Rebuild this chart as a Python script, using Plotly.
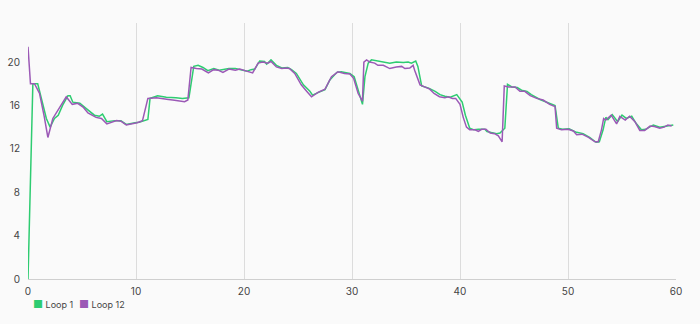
import plotly.graph_objects as go

# Loop 1 (green)
loop1_x = [0, 0.45, 0.9, 1.37, 1.7, 2.05, 2.45, 2.8, 3.2, 3.7,
           3.9, 4.15, 4.8, 5.4, 6.15, 6.6, 6.9, 7.3, 8.05, 8.6,
           9.1, 9.9, 10.3, 11.1, 11.3, 12.0, 12.8, 13.7, 14.3, 14.9,
           15.35, 15.75, 16.2, 16.65, 17.2, 17.7, 18.2, 18.6, 19.2, 19.8,
           20.3, 20.65, 21.0, 21.45, 21.9, 22.1, 22.5, 23.0, 23.5, 24.05,
           24.4, 24.85, 25.5, 26.1, 26.35, 26.9, 27.5, 27.95, 28.6, 29.0,
           29.8, 30.2, 30.7, 30.97, 31.2, 31.5, 31.8, 32.3, 32.9, 33.5,
           34.1, 34.75, 35.2, 35.5, 35.9, 36.1, 36.45, 37.1, 37.7, 38.15,
           38.6, 39.1, 39.7, 40.2, 40.5, 40.9, 41.3, 41.7, 42.3, 42.5,
           42.9, 43.4, 43.7, 44.15, 44.4, 44.8, 45.3, 45.7, 46.2, 46.6,
           47.4, 48.2, 48.8, 49.1, 49.5, 50.1, 50.7, 51.4, 52.0, 52.6,
           52.9, 53.25, 53.5, 53.7, 54.1, 54.6, 55.0, 55.4, 55.9, 56.3,
           56.8, 57.2, 57.9, 58.5, 59.1, 59.6, 59.75]
loop1_y = [0, 18.0, 18.0, 16.2, 14.8, 14.0, 14.8, 15.1, 16.0, 16.9,
           16.9, 16.3, 16.2, 15.7, 15.1, 15.0, 15.2, 14.5, 14.6, 14.6,
           14.25, 14.4, 14.45, 14.7, 16.65, 16.9, 16.75, 16.7, 16.65, 16.7,
           19.6, 19.7, 19.5, 19.2, 19.4, 19.25, 19.35, 19.4, 19.4, 19.25,
           19.15, 19.3, 19.35, 20.1, 20.05, 19.8, 20.2, 19.7, 19.45, 19.5,
           19.3, 18.95, 17.9, 17.3, 16.95, 17.2, 17.45, 18.35, 19.05, 19.1,
           18.95, 18.65, 17.0, 16.1, 18.65, 19.9, 20.2, 20.1, 19.95, 19.9,
           20.0, 19.95, 20.0, 19.9, 20.1, 19.6, 17.8, 17.6, 17.3, 17.0,
           16.85, 16.75, 17.0, 16.3, 15.1, 13.9, 13.75, 13.8, 13.8, 13.6,
           13.5, 13.4, 13.45, 13.9, 17.95, 17.7, 17.65, 17.4, 17.3, 17.0,
           16.55, 16.25, 16.0, 13.9, 13.8, 13.85, 13.55, 13.4, 13.05, 12.6,
           12.65, 13.75, 14.9, 14.7, 15.15, 14.5, 15.1, 14.8, 15.0, 14.35,
           13.75, 13.8, 14.2, 14.0, 14.1, 14.2, 14.2]

# Loop 12 (purple)
loop12_x = [0, 0.23, 0.6, 1.07, 1.5, 1.84, 2.3, 2.9, 3.54, 3.7,
            4.1, 4.6, 5.1, 5.55, 6.3, 6.8, 7.3, 8.2, 8.6, 9.1,
            9.7, 10.1, 10.6, 11.1, 11.9, 12.5, 13.0, 13.4, 14.0, 14.5,
            14.8, 15.1, 15.6, 16.1, 16.7, 17.2, 17.6, 18.05, 18.6, 19.2,
            19.6, 20.2, 20.8, 21.3, 21.75, 22.2, 22.5, 23.0, 23.5, 23.9,
            24.2, 24.7, 25.3, 25.8, 26.25, 26.85, 27.5, 28.1, 28.7, 29.3,
            29.8, 30.15, 30.57, 30.97, 31.1, 31.35, 31.65, 32.1, 32.4, 32.9,
            33.5, 34.1, 34.6, 34.9, 35.35, 35.66, 35.8, 36.3, 36.7, 37.2,
            37.6, 38.1, 38.6, 38.9, 39.3, 39.6, 40.0, 40.3, 40.6, 40.9,
            41.4, 41.7, 42.0, 42.4, 42.8, 43.2, 43.55, 43.9, 44.1, 44.5,
            45.1, 45.55, 46.0, 46.5, 47.1, 47.7, 48.3, 48.8, 48.95, 49.4,
            50.0, 50.5, 50.8, 51.3, 51.9, 52.5, 52.8, 53.1, 53.3, 53.5,
            54.0, 54.5, 54.8, 55.3, 55.7, 56.2, 56.65, 57.1, 57.6, 58.0,
            58.5, 58.9, 59.25, 59.6]
loop12_y = [21.4, 18.0, 18.0, 17.1, 15.0, 13.05, 14.8, 15.8, 16.8, 16.6,
            16.1, 16.2, 15.85, 15.3, 14.9, 14.8, 14.3, 14.6, 14.55, 14.2,
            14.3, 14.4, 14.6, 16.65, 16.7, 16.65, 16.55, 16.5, 16.4, 16.35,
            16.5, 19.5, 19.4, 19.35, 19.0, 19.3, 19.25, 19.05, 19.35, 19.25,
            19.35, 19.2, 19.0, 19.9, 20.0, 19.9, 20.05, 19.55, 19.4, 19.45,
            19.4, 18.95, 17.9, 17.3, 16.8, 17.2, 17.5, 18.65, 19.1, 18.95,
            18.9, 18.5, 17.1, 16.4, 20.0, 20.2, 20.0, 19.9, 19.7, 19.7,
            19.4, 19.55, 19.6, 19.4, 19.45, 19.7, 19.25, 17.9, 17.7, 17.5,
            17.1, 16.8, 16.7, 16.8, 16.65, 16.65, 16.1, 14.9, 14.0, 13.75,
            13.75, 13.6, 13.8, 13.8, 13.45, 13.4, 13.2, 12.65, 17.8, 17.7,
            17.7, 17.3, 17.3, 16.9, 16.65, 16.5, 16.1, 15.9, 13.9, 13.75,
            13.8, 13.65, 13.3, 13.35, 13.05, 12.65, 12.65, 13.75, 14.8, 14.65,
            15.1, 14.3, 15.0, 14.65, 15.0, 14.5, 13.7, 13.7, 14.1, 14.05,
            13.9, 14.0, 14.2, 14.1]

assert len(loop1_x) == len(loop1_y)
assert len(loop12_x) == len(loop12_y)

series_names = ["Loop 1", "Loop 12"]
series_colors = ["#2ecc71", "#9b59b6"]
x_ticks = [0, 10, 20, 30, 40, 50, 60]
y_ticks = [0, 4, 8, 12, 16, 20]

series = [(series_names[0], loop1_x, loop1_y, series_colors[0]),
          (series_names[1], loop12_x, loop12_y, series_colors[1])]

fig = go.Figure()
for name, xs, ys, col in series:
    fig.add_trace(go.Scatter(x=xs, y=ys, mode="lines", name=name,
                             line=dict(color=col, width=1.5)))

# compact key below the plot (square swatch + series name), left aligned
key_x = [0.0062, 0.0765]
for name, col, kx in zip(series_names, series_colors, key_x):
    fig.add_annotation(
        xref="paper", yref="paper", x=kx, y=-0.098,
        xanchor="left", yanchor="middle", showarrow=False,
        text=f'<span style="color:{col};font-size:11px">■</span> {name}',
        font=dict(size=9, color="#444"), borderpad=0,
    )

font_family = "Inter, Roboto, sans-serif"
fig.update_layout(
    width=700, height=324,
    margin=dict(l=28, r=24, t=23, b=45, autoexpand=False),
    paper_bgcolor="#fafafa", plot_bgcolor="#fafafa",
    font=dict(family=font_family, size=10, color="#444"),
    showlegend=False,
    xaxis=dict(range=[0, 60], tickvals=x_ticks, showgrid=True,
               gridcolor="#dcdcdc", gridwidth=1, zeroline=False,
               showline=True, linecolor="#cfcfcf", linewidth=1,
               ticks="outside", ticklen=3, tickcolor="rgba(0,0,0,0)",
               automargin=False),
    yaxis=dict(range=[0, 23.6], tickvals=y_ticks, showgrid=False,
               zeroline=False, showline=False,
               ticks="outside", ticklen=5, tickcolor="rgba(0,0,0,0)",
               automargin=False),
)

fig.write_html("out.html")
